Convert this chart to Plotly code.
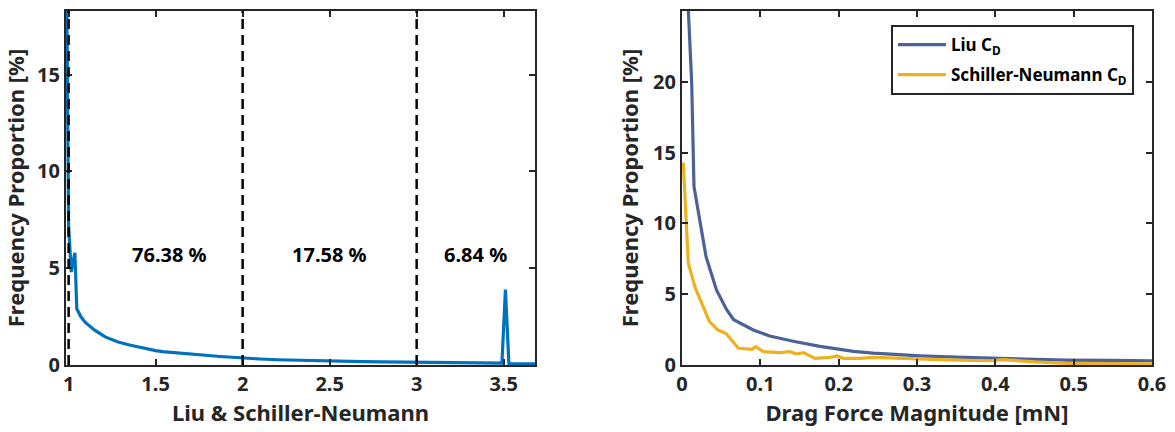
import plotly.graph_objects as go

# ---------------- data ----------------
# Left panel: ratio Liu / Schiller-Neumann distribution
ratio_x = [0.99, 1.0, 1.015, 1.036, 1.047, 1.07, 1.096, 1.15, 1.21, 1.28, 1.35, 1.40, 1.45, 1.50,
           1.54, 1.60, 1.66, 1.73, 1.80, 1.87, 1.94, 2.0, 2.1, 2.2, 2.31, 2.4, 2.5, 2.6, 2.69,
           2.8, 2.9, 3.0, 3.1, 3.2, 3.3, 3.36, 3.45, 3.49, 3.51, 3.53, 3.6, 3.68]
ratio_y = [18.3, 7.2, 4.8, 5.8, 2.9, 2.5, 2.2, 1.8, 1.45, 1.2, 1.03, 0.92, 0.84, 0.74,
           0.69, 0.64, 0.58, 0.54, 0.49, 0.44, 0.40, 0.36, 0.31, 0.27, 0.24, 0.22, 0.2, 0.18, 0.17,
           0.16, 0.15, 0.14, 0.13, 0.12, 0.12, 0.11, 0.1, 0.1, 3.9, 0.06, 0.06, 0.06]
region_bounds = [1, 2, 3]
region_labels = ["76.38 %", "17.58 %", "6.84 %"]
region_label_x = [1.58, 2.5, 3.34]
region_label_y = [5.7, 5.7, 5.7]

# Right panel: drag force magnitude distributions
liu_x = [0.004, 0.0124, 0.0153, 0.0307, 0.044, 0.057, 0.066, 0.08, 0.091, 0.112, 0.142, 0.176,
         0.219, 0.244, 0.28, 0.304, 0.35, 0.406, 0.45, 0.49, 0.55, 0.6]
liu_y = [30.0, 19.9, 12.6, 7.65, 5.3, 3.9, 3.2, 2.8, 2.47, 2.05, 1.68, 1.32,
         0.96, 0.84, 0.72, 0.65, 0.55, 0.47, 0.4, 0.35, 0.32, 0.3]
sn_x = [0.0017, 0.008, 0.0166, 0.027, 0.035, 0.04, 0.046, 0.056, 0.072, 0.089, 0.094, 0.104,
        0.125, 0.138, 0.146, 0.155, 0.17, 0.189, 0.198, 0.206, 0.227, 0.244, 0.278, 0.304,
        0.35, 0.395, 0.41, 0.45, 0.49, 0.55, 0.6]
sn_y = [14.3, 7.2, 5.5, 4.1, 3.06, 2.8, 2.47, 2.24, 1.18, 1.1, 1.3, 0.94,
        0.87, 0.94, 0.78, 0.87, 0.47, 0.54, 0.64, 0.47, 0.47, 0.54, 0.47, 0.4,
        0.35, 0.3, 0.38, 0.22, 0.12, 0.1, 0.08]

left_xticks = [1, 1.5, 2, 2.5, 3, 3.5]
left_yticks = [0, 5, 10, 15]
right_xticks = [0, 0.1, 0.2, 0.3, 0.4, 0.5, 0.6]
right_yticks = [0, 5, 10, 15, 20, 25]

# ---------------- figure ----------------
FONT = "Noto Sans"
TXT = "#262626"

fig = go.Figure()
fig.add_trace(go.Scatter(x=ratio_x, y=ratio_y, mode="lines",
                         line=dict(color="#0072BD", width=3.2), showlegend=False,
                         xaxis="x", yaxis="y"))
fig.add_trace(go.Scatter(x=liu_x, y=liu_y, mode="lines", name="Liu C<sub>D</sub>",
                         legendgroup="liu",
                         line=dict(color="#4B6298", width=3.2), xaxis="x2", yaxis="y2"))
fig.add_trace(go.Scatter(x=sn_x, y=sn_y, mode="lines", name="Schiller-Neumann C<sub>D</sub>",
                         legendgroup="sn",
                         line=dict(color="#EDB120", width=3.2), xaxis="x2", yaxis="y2"))

for b in region_bounds:
    fig.add_shape(type="line", xref="x", yref="y domain", x0=b, x1=b, y0=0, y1=1,
                  line=dict(color="black", width=2.5, dash="10px,6px"), layer="above")

for t, x, y in zip(region_labels, region_label_x, region_label_y):
    fig.add_annotation(x=x, y=y, xref="x", yref="y", text=t, showarrow=False,
                       font=dict(family=FONT, size=20, color="black", weight="bold"))

axis_common = dict(showline=True, linecolor=TXT, linewidth=2.2, mirror="ticks",
                   ticks="inside", ticklen=6, tickwidth=2, tickcolor=TXT,
                   showgrid=False, zeroline=False, automargin=False,
                   tickfont=dict(family=FONT, size=20, color=TXT, weight="bold"),
                   title_font=dict(family=FONT, size=22, color=TXT, weight="bold"))

ydom = [1 - 365 / 432, 1 - 11 / 432]
fig.update_layout(
    width=1175, height=432,
    margin=dict(l=0, r=0, t=0, b=0),
    paper_bgcolor="white", plot_bgcolor="white",
    xaxis=dict(domain=[66 / 1175, 535 / 1175], range=[0.985, 3.68], tickvals=left_xticks,
               ticktext=[str(v) for v in left_xticks], anchor="y",
               title=dict(text="Liu & Schiller-Neumann", standoff=8), **axis_common),
    yaxis=dict(domain=ydom, range=[0, 18.28], tickvals=left_yticks, anchor="x",
               title=dict(text="Frequency Proportion [%]", standoff=8), **axis_common),
    xaxis2=dict(domain=[682 / 1175, 1152 / 1175], range=[0, 0.6], tickvals=right_xticks,
                ticktext=[("%g" % v) for v in right_xticks], anchor="y2",
                title=dict(text="Drag Force Magnitude [mN]", standoff=8), **axis_common),
    yaxis2=dict(domain=ydom, range=[0, 25], tickvals=right_yticks, anchor="x2",
                title=dict(text="Frequency Proportion [%]", standoff=8), **axis_common),
    legend=dict(x=891 / 1175, y=1 - 25 / 432, xanchor="left", yanchor="top",
                bordercolor=TXT, borderwidth=2, bgcolor="white", itemwidth=48,
                font=dict(family=FONT, size=17, color="black", weight="bold"),
                tracegroupgap=5),
    showlegend=True,
)

fig.write_html("out.html", config={"displayModeBar": False},
               post_script="document.body.style.margin='0';document.body.style.overflow='hidden';")
